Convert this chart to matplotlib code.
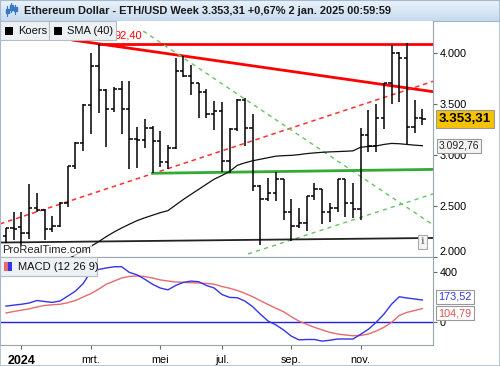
import numpy as np
import matplotlib
matplotlib.use("Agg")
import matplotlib.pyplot as plt
import matplotlib.transforms as mtransforms
from matplotlib.colors import LinearSegmentedColormap
from matplotlib.patches import Rectangle

plt.rcParams["font.family"] = ["Liberation Sans", "DejaVu Sans"]

# weekly OHLC, Dec 18 2023 .. Dec 30 2024
opens = [2210, 2280, 2290, 2235, 2480, 2460, 2275, 2300, 2530, 2890,
         3120, 3490, 3880, 3635, 3455, 3650, 3455, 3160, 3150, 3265,
         3140, 2935, 3070, 3830, 3780, 3710, 3620, 3405, 3435, 2940,
         3260, 3540, 3270, 2700, 2570, 2630, 2765, 2445, 2300, 2335,
         2600, 2665, 2445, 2480, 2765, 2530, 2470, 3195, 3085, 3365,
         3705, 4000, 3950, 3280, 3360]
highs = [2285, 2445, 2440, 2720, 2630, 2470, 2400, 2540, 2895, 3125,
         3500, 4000, 4092.4, 3650, 3670, 3725, 3730, 3280, 3355, 3290,
         3235, 3100, 3950, 3970, 3885, 3710, 3650, 3530, 3525, 3265,
         3555, 3560, 3400, 2710, 2775, 2830, 2765, 2570, 2480, 2600,
         2730, 2670, 2535, 2770, 2770, 2730, 3270, 3445, 3505, 3710,
         4085, 4010, 4105, 3545, 3450]
lows = [2140, 2170, 2100, 2175, 2440, 2170, 2245, 2290, 2490, 2860,
        3040, 3210, 3415, 3080, 3420, 3210, 2860, 2875, 3075, 2820,
        2880, 2865, 3060, 3770, 3590, 3365, 3360, 3250, 2835, 2825,
        3240, 3090, 2650, 2120, 2545, 2545, 2360, 2160, 2285, 2260,
        2560, 2325, 2340, 2440, 2390, 2380, 2365, 3030, 3030, 3255,
        3505, 3520, 3105, 3220, 3295]
closes = [2280, 2275, 2235, 2480, 2460, 2275, 2300, 2530, 2890, 3120,
          3490, 3880, 3635, 3455, 3650, 3455, 3160, 3150, 3265, 3140,
          2935, 3070, 3830, 3780, 3710, 3620, 3405, 3435, 2940, 3260,
          3540, 3270, 2700, 2570, 2630, 2765, 2445, 2300, 2335, 2600,
          2665, 2445, 2480, 2765, 2530, 2470, 3195, 3085, 3365, 3705,
          4000, 3950, 3280, 3360, 3353.31]

# SMA(40), from bar 8 on
sma_start = 8
sma40 = [1980, 2020, 2061, 2105, 2150, 2200, 2245, 2285, 2322, 2357,
         2385, 2410, 2435, 2455, 2510, 2565, 2615, 2665, 2715, 2764,
         2800, 2840, 2900, 2925, 2945, 2960, 2975, 2990, 2995, 2998,
         3005, 3015, 3022, 3028, 3032, 3035, 3038, 3042, 3078, 3085,
         3090, 3105, 3115, 3112, 3105, 3098, 3092.76]

# MACD (12 26 9)
macd = [125, 133, 140, 150, 170, 162, 155, 166, 205, 245,
        305, 400, 418, 430, 440, 440, 395, 375, 340, 300,
        270, 255, 290, 315, 325, 320, 290, 270, 218, 195,
        192, 165, 120, 60, 5, -25, -66, -115, -145, -142,
        -142, -155, -148, -138, -138, -138, -100, -60, -5, 60,
        140, 200, 190, 182, 173.52]
signal = [70, 82, 93, 103, 118, 130, 136, 140, 152, 170,
          198, 225, 260, 300, 325, 350, 363, 366, 362, 350,
          335, 326, 318, 315, 312, 310, 307, 300, 282, 268,
          250, 227, 200, 168, 138, 108, 80, 40, 5, -20,
          -45, -65, -85, -98, -106, -112, -110, -98, -75, -45,
          -5, 50, 75, 90, 104.79]

# drawn trend lines: (x0, y0, x1, y1) in bar index / price
red_hline = (12, 4092.4, 55.4, 4092.4)
red_down = (8.7, 4129, 55.4, 3623)
red_dash = (-0.78, 2325, 55.4, 3725)
green_dash_down = (17.8, 4218, 55.4, 2315)
green_dash_up = (31.4, 2030, 55.4, 2620)
green_flat = (19, 2822, 55.4, 2860)
black_support = (-0.78, 2142, 55.4, 2187)

month_idx = [2, 11, 20, 28, 37, 46]
month_labels = ["2024", "mrt.", "mei", "jul.", "sep.", "nov."]

W, H = 500, 366
fig = plt.figure(figsize=(W / 100, H / 100), dpi=100)
fig.patch.set_facecolor("white")


def px_axes(x0, y0, x1, y1):
    return fig.add_axes([x0 / W, 1 - y1 / H, (x1 - x0) / W, (y1 - y0) / H])


def fig_rect(x0, y0, x1, y1, **kw):
    fig.patches.append(Rectangle((x0 / W, 1 - y1 / H), (x1 - x0) / W, (y1 - y0) / H,
                                 transform=fig.transFigure, **kw))


x = np.arange(len(closes))
XL = (-0.78, 55.38)

# ---- title bar
tb = px_axes(0, 0, 500, 21)
grad = np.linspace(0, 1, 20).reshape(-1, 1)
tb.imshow(grad, aspect="auto", extent=(0, 500, 21, 0),
          cmap=LinearSegmentedColormap.from_list("tb", ["#eaf3fb", "#c6dbee"]))
tb.set_xlim(0, 500)
tb.set_ylim(21, 0)
tb.set_xticks([])
tb.set_yticks([])
for s in tb.spines.values():
    s.set_color("#9fb6cc")
for cx, top, bot, body in [(7, 6, 16, (9, 13)), (11, 3, 12, (5, 10)), (15, 5, 14, (7, 11))]:
    tb.plot([cx, cx], [top, bot], color="#3a78c4", lw=0.8)
    tb.add_patch(Rectangle((cx - 1.5, body[0]), 3, body[1] - body[0], color="#3a78c4"))
tb.text(24, 11, "Ethereum Dollar - ETH/USD Week 3.353,31 +0,67% 2 jan. 2025 00:59:59",
        fontsize=7.9, fontweight="bold", color="#1a1a1a", va="center", ha="left")

# ---- price panel
ax = px_axes(0, 21, 433, 257)
ax.set_xlim(*XL)
ax.set_ylim(2000, 4317)

for ln, col, ls, lw in [
    (red_hline, "#ff0000", "-", 2.0),
    (red_down, "#ff0000", "-", 2.0),
    (red_dash, "#ff3030", (0, (3, 2.5)), 1.1),
    (green_dash_down, "#66c466", (0, (3, 3)), 1.0),
    (green_dash_up, "#66c466", (0, (3, 3)), 1.0),
    (green_flat, "#33aa33", "-", 2.0),
    (black_support, "#222222", "-", 1.3),
]:
    ax.plot([ln[0], ln[2]], [ln[1], ln[3]], color=col, ls=ls, lw=lw, zorder=2)

ax.plot(x[sma_start:], sma40, color="#111111", lw=0.9, zorder=3)

ax.vlines(x, lows, highs, color="black", lw=1.1, zorder=4)
ax.hlines(opens, x - 0.42, x, color="black", lw=1.1, zorder=4)
ax.hlines(closes, x, x + 0.42, color="black", lw=1.1, zorder=4)

ax.set_xticks([])
ax.yaxis.tick_right()
ax.set_yticks([2000, 2500, 3000, 3500, 4000])
ax.set_yticklabels(["2.000", "2.500", "3.000", "3.500", "4.000"])
ax.tick_params(axis="y", length=3, width=0.8, color="#666666", labelsize=7.8, pad=2)
ax.get_yticklabels()[0].set_va("bottom")
for s in ax.spines.values():
    s.set_color("#9aa4ae")
    s.set_linewidth(0.8)
ax.spines["top"].set_visible(False)

ax.text(0.005, 0.028, "ProRealTime.com", fontsize=8, color="#222222", ha="left",
        va="center", transform=ax.transAxes, zorder=5,
        bbox=dict(boxstyle="square,pad=0.05", fc="white", ec="none", alpha=0.7))
ax.text(0.976, 0.065, "i", fontsize=7, fontweight="bold", color="#888888", ha="center",
        va="center", transform=ax.transAxes, family="DejaVu Serif",
        bbox=dict(boxstyle="square,pad=0.25", fc="#f4f4f4", ec="#aaaaaa", lw=0.8))

tr = mtransforms.blended_transform_factory(ax.transAxes, ax.transData)
ax.text(1.013, closes[-1], "3.353,31", transform=tr, fontsize=9.5, fontweight="bold",
        ha="left", va="center", clip_on=False, zorder=6,
        bbox=dict(boxstyle="square,pad=0.22", fc="#f6c200", ec="#999999", lw=0.8))
ax.text(1.013, sma40[-1], "3.092,76", transform=tr, fontsize=7.5, color="#222222",
        ha="left", va="center", clip_on=False, zorder=6,
        bbox=dict(boxstyle="square,pad=0.2", fc="#f4f4f4", ec="#999999", lw=0.8))

# visible tail of the 4.092,40 level label (rest sits under the legend)
fig.text(142 / W, 1 - 36 / H, "92,40", color="#ff0000", fontsize=8,
         ha="right", va="center", zorder=5)

# legend boxes
for bx0, bx1, label in [(0, 49, "Koers"), (49, 116, "SMA (40)")]:
    fig_rect(bx0, 21, bx1, 40, fc="#eef1f4", ec="#b3bcc5", lw=0.8, zorder=10)
    fig_rect(bx0 + 5, 27, bx0 + 13, 35, fc="black", ec="none", zorder=11)
    fig.text((bx0 + 18) / W, 1 - 31 / H, label, fontsize=8, color="#111111",
             va="center", ha="left", zorder=12)

# ---- MACD panel
mx = px_axes(0, 257, 433, 345)
mx.set_xlim(*XL)
mx.set_ylim(-186, 518)
mx.axhline(0, color="#2222dd", lw=1.0)
mx.plot(x, signal, color="#e86a6a", lw=1.0)
mx.plot(x, macd, color="#3434e8", lw=1.0)
mx.yaxis.tick_right()
mx.set_yticks([0, 400])
mx.set_yticklabels(["0", "400"])
mx.tick_params(axis="y", length=3, width=0.8, color="#666666", labelsize=7.8, pad=2)
mx.set_xticks(month_idx)
mx.set_xticklabels(month_labels)
mx.tick_params(axis="x", length=3, width=0.8, color="#666666", labelsize=7.8, pad=4)
mx.get_xticklabels()[0].set_fontweight("bold")
mx.get_xticklabels()[0].set_fontsize(9)
for s in mx.spines.values():
    s.set_color("#9aa4ae")
    s.set_linewidth(0.8)

trm = mtransforms.blended_transform_factory(mx.transAxes, mx.transData)
mx.text(1.013, 200, "173,52", transform=trm, fontsize=7.8, color="#3434e8", ha="left",
        va="center", clip_on=False,
        bbox=dict(boxstyle="square,pad=0.2", fc="white", ec="#999999", lw=0.8))
mx.text(1.013, 68, "104,79", transform=trm, fontsize=7.8, color="#e05555", ha="left",
        va="center", clip_on=False,
        bbox=dict(boxstyle="square,pad=0.2", fc="white", ec="#999999", lw=0.8))

fig_rect(0, 257, 97, 276, fc="#eef1f4", ec="#b3bcc5", lw=0.8, zorder=10)
fig_rect(4, 262, 8, 271, fc="#e86a6a", ec="none", zorder=11)
fig_rect(8, 262, 12, 271, fc="#3434e8", ec="none", zorder=11)
fig.text(18 / W, 1 - 267 / H, "MACD (12 26 9)", fontsize=8, color="#111111",
         va="center", ha="left", zorder=12)

fig_rect(0, 0, 500, 366, fc="none", ec="#a9bccd", lw=1.2, zorder=20)

fig.savefig("out.png", dpi=100)
